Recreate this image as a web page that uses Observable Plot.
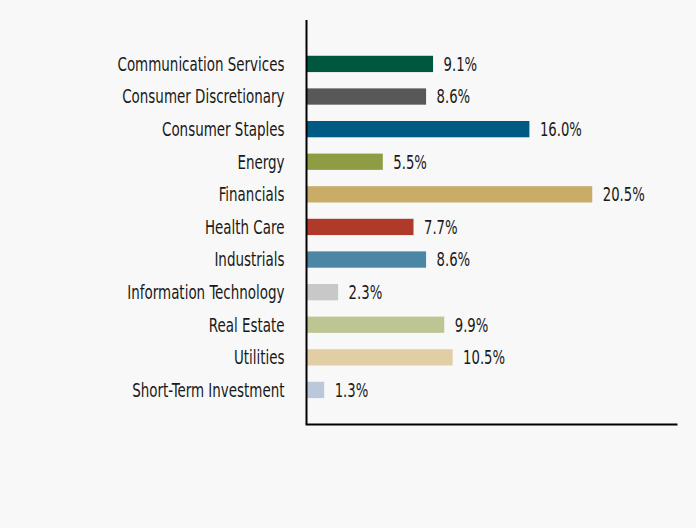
<!DOCTYPE html>
<html><head><meta charset="utf-8">
<script src="https://cdn.jsdelivr.net/npm/d3@7"></script>
<script src="https://cdn.jsdelivr.net/npm/@observablehq/plot@0.6"></script>
<style>
html,body{margin:0;padding:0;background:#f8f8f8;}
#chart svg{display:block;}
</style></head>
<body><div id="chart"></div>
<script>
const sectors = ["Communication Services","Consumer Discretionary","Consumer Staples","Energy","Financials","Health Care","Industrials","Information Technology","Real Estate","Utilities","Short-Term Investment"];
const values = [9.1,8.6,16.0,5.5,20.5,7.7,8.6,2.3,9.9,10.5,1.3];
const colors = ["#00573f","#58585a","#005a84","#8f9c44","#c9ac68","#b03a2a","#4b87a5","#c8c8c8","#bdc592","#e1cea4","#b9c8da"];
const data = sectors.map((s,i)=>({sector:s, value:values[i], color:colors[i]}));
const font = "'DejaVu Sans Condensed','DejaVu Sans',sans-serif";
const chart = Plot.plot({
  width: 696, height: 528,
  marginLeft: 306, marginRight: 20, marginTop: 20, marginBottom: 104,
  style: {background: "#f8f8f8", fontFamily: font, fontSize: "20px", color: "#1a1a1a"},
  x: {domain: [0, 26.5], axis: null},
  y: {domain: sectors, paddingInner: 0.5, paddingOuter: 0.946, align: 0.58, round: false, label: null, tickSize: 0, tickPadding: 22},
  marks: [
    Plot.barX(data, {x: "value", y: "sector", fill: "color"}),
    Plot.text(data, {x: "value", y: "sector", text: d => d.value.toFixed(1) + "%", textAnchor: "start", dx: 10, fontSize: 20, fill: "#1a1a1a", className: "vlab"}),
    Plot.ruleX([0], {stroke: "#000", strokeWidth: 2}),
    Plot.frame({anchor: "bottom", stroke: "#000", strokeWidth: 2})
  ]
});
document.getElementById("chart").appendChild(chart);
// condense glyphs horizontally to mimic the narrow typeface
const texts = Array.from(chart.querySelectorAll("text"));
const valueTexts = texts.filter(t => /%$/.test(t.textContent));
const labelTexts = texts.filter(t => !/%$/.test(t.textContent));
function squeeze(list, refText, target) {
  const ref = list.find(t => t.textContent === refText);
  if (!ref) return;
  const k = target / ref.getComputedTextLength();
  list.forEach(t => {
    const len = t.getComputedTextLength();
    t.setAttribute("textLength", (len * k).toFixed(1));
    t.setAttribute("lengthAdjust", "spacingAndGlyphs");
  });
}
squeeze(labelTexts, "Communication Services", 167);
squeeze(valueTexts, "20.5%", 42);
</script></body></html>
